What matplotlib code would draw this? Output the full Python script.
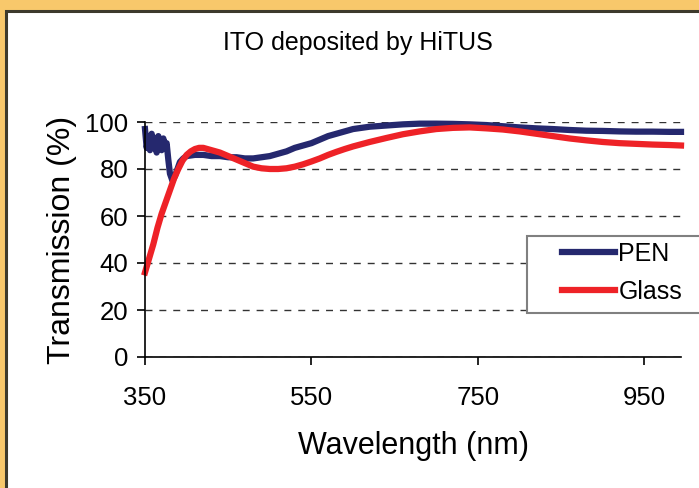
import matplotlib.pyplot as plt
from matplotlib.patches import Rectangle

plt.rcParams['font.family'] = ['Liberation Sans', 'DejaVu Sans']

# PEN substrate
pen_wl = [350, 352, 354, 356, 358, 360, 362, 364, 366, 368, 370, 372, 374, 376, 378,
          380, 383, 386, 389, 392, 396, 400, 410, 420, 430, 440, 450, 460, 470, 480,
          490, 500, 510, 520, 530, 540, 550, 560, 570, 580, 590, 600, 620, 640, 660,
          680, 700, 720, 740, 760, 780, 800, 820, 840, 860, 880, 900, 920, 940, 960,
          980, 994]
pen_t = [97, 89, 94, 88, 95, 89, 93, 87, 94, 90, 88, 93, 89, 91, 84,
         78, 75, 77, 80, 83, 84.5, 85.5, 86, 86, 85.5, 85.5, 85, 85, 84.5, 84.5,
         85, 85.5, 86.5, 87.5, 89, 90, 91, 92.5, 94, 95, 96, 97, 98, 98.5, 99,
         99.3, 99.3, 99.2, 99, 98.7, 98.2, 97.7, 97.3, 97, 96.6, 96.3, 96.2, 96, 95.9, 95.9,
         95.8, 95.8]

# Glass substrate
glass_wl = [350, 355, 360, 365, 370, 375, 380, 385, 390, 395, 400, 405, 410, 415, 420,
            425, 430, 440, 450, 460, 470, 480, 490, 500, 510, 520, 530, 540, 550, 560,
            570, 580, 590, 600, 620, 640, 660, 680, 700, 720, 740, 760, 780, 800, 820,
            840, 860, 880, 900, 920, 940, 960, 980, 994]
glass_t = [36, 42, 48, 55, 61, 66, 71, 76, 80, 83.5, 86, 87.5, 88.5, 89, 89,
           88.5, 88, 87, 85.5, 84, 82.5, 81, 80.3, 80, 80, 80.3, 81, 82, 83.2, 84.5,
           86, 87.3, 88.5, 89.6, 91.5, 93.2, 94.8, 96, 97, 97.5, 97.7, 97.3, 96.8, 96, 95,
           94, 93, 92.2, 91.5, 91, 90.7, 90.4, 90.2, 90]

W, H = 699, 488
fig = plt.figure(figsize=(W / 100, H / 100), dpi=100)
fig.patch.set_facecolor('#f8c86b')

# white panel with dark edge on left/top
fig.patches.append(Rectangle((6 / W, -0.1), 1.2, (H - 11) / H + 0.1, transform=fig.transFigure,
                             facecolor='white', edgecolor='#3d3a2c', linewidth=2.2, zorder=-5))

ax = fig.add_axes([145 / W, (H - 357) / H, (681 - 145) / W, (357 - 122) / H])
ax.set_zorder(1)
ax.set_facecolor('none')

ax.plot(pen_wl, pen_t, color='#25286e', lw=4.5, label='PEN', clip_on=False,
        solid_joinstyle='round')
ax.plot(glass_wl, glass_t, color='#ee2227', lw=4.5, label='Glass', clip_on=False,
        solid_joinstyle='round')

ax.set_xlim(350, 994)
ax.set_ylim(0, 100)
ax.set_xticks([350, 550, 750, 950])
ax.set_yticks([0, 20, 40, 60, 80, 100])
ax.yaxis.grid(True, linestyle=(0, (5, 5)), color='#333333', linewidth=1)
ax.set_axisbelow(True)
for s in ['top', 'right']:
    ax.spines[s].set_visible(False)
for s in ['left', 'bottom']:
    ax.spines[s].set_linewidth(1.2)
ax.tick_params(axis='both', direction='out', length=6, width=1.2, labelsize=18.5)
ax.tick_params(axis='x', pad=15)
ax.tick_params(axis='y', pad=6)

ax.set_xlabel('Wavelength (nm)', fontsize=22, labelpad=15)
ax.set_ylabel('Transmission (%)', fontsize=23, labelpad=6)
fig.text(358 / W, 1 - 43 / H, 'ITO deposited by HiTUS', fontsize=18, ha='center', va='center')

# legend frame runs off the right edge
ax.add_patch(Rectangle((527 / W, (H - 313) / H), 200 / W, 77 / H, transform=fig.transFigure,
                       facecolor='white', edgecolor='#808080', linewidth=1.5, zorder=5,
                       clip_on=False))
leg = ax.legend(loc='upper left', bbox_to_anchor=(552 / W, 1 - 232 / H), bbox_transform=fig.transFigure,
                frameon=False, fontsize=18, handlelength=2.1, handletextpad=0.15,
                labelspacing=0.55, borderaxespad=0)
leg.set_zorder(6)

fig.savefig('out.png', dpi=100, facecolor=fig.get_facecolor())
